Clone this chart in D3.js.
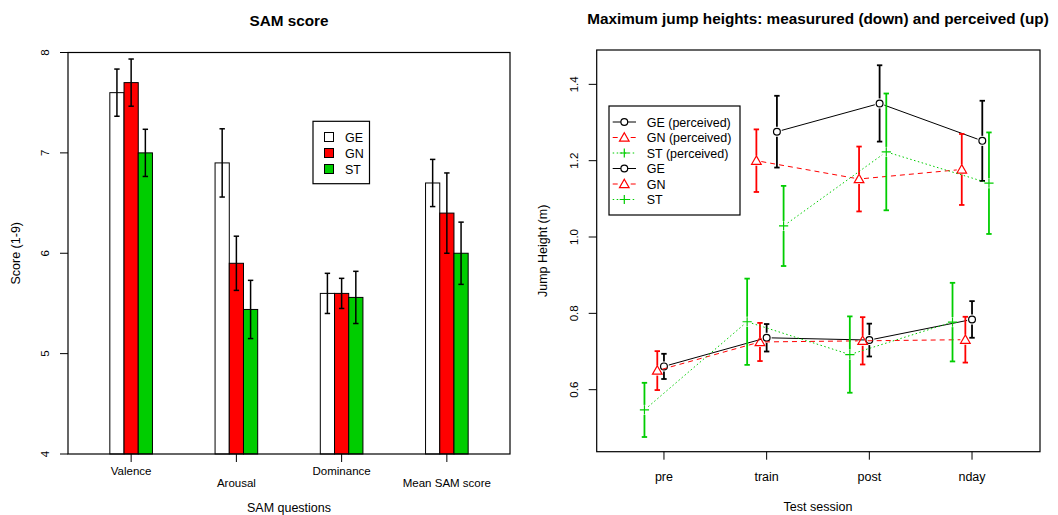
<!DOCTYPE html>
<meta charset="utf-8">
<head>
<style>
  body { margin: 0; background: #fff; }
  text { font-family: "Liberation Sans", Arial, sans-serif; }
</style>
</head>
<script src="https://d3js.org/d3.v7.min.js"></script>
<body>
<script>

// ---- left panel data: SAM score bars ----
var questions = ["Valence", "Arousal", "Dominance", "Mean SAM score"];
var groups = ["GE", "GN", "ST"];
var samMean = {
  GE: [7.60, 6.90, 5.60, 6.70],
  GN: [7.70, 5.90, 5.60, 6.40],
  ST: [7.00, 5.44, 5.56, 6.00]
};
var samErr = {
  GE: [0.235, 0.34, 0.20, 0.235],
  GN: [0.235, 0.27, 0.15, 0.40],
  ST: [0.235, 0.29, 0.26, 0.31]
};
var samTicks = [4, 5, 6, 7, 8];

// ---- right panel data: jump heights ----
var sessions = ["pre", "train", "post", "nday"];
var measured = {
  GE: [0.661, 0.736, 0.730, 0.784],
  GN: [0.650, 0.725, 0.728, 0.731],
  ST: [0.547, 0.778, 0.692, 0.777]
};
var measuredErr = {
  GE: [0.033, 0.036, 0.043, 0.048],
  GN: [0.051, 0.050, 0.062, 0.060],
  ST: [0.071, 0.113, 0.100, 0.103]
};
// perceived has no "pre" value
var perceived = {
  GE: [null, 1.276, 1.350, 1.252],
  GN: [null, 1.200, 1.152, 1.177],
  ST: [null, 1.029, 1.223, 1.141]
};
var perceivedErr = {
  GE: [null, 0.094, 0.100, 0.105],
  GN: [null, 0.082, 0.085, 0.093],
  ST: [null, 0.105, 0.153, 0.133]
};
// small horizontal dodge, in session units
var dodgeMeasured = {GE: 0, GN: -0.065, ST: -0.19};
var dodgePerceived = {GE: 0.10, GN: -0.10, ST: 0.165};
var jumpTicks = [0.6, 0.8, 1.0, 1.2, 1.4];

var colors = {GE: "#000000", GN: "#ff0000", ST: "#00cd00"};
var barFill = {GE: "#ffffff", GN: "#ff0000", ST: "#00cd00"};
var dash = {GE: null, GN: "5,4", ST: "1.5,2.5"};

var svg = d3.select("body").append("svg")
    .attr("width", 1058)
    .attr("height", 515);

// =================== left: bar chart ===================
var L = {left: 68, right: 510, top: 52.5, bottom: 454};

var xq = d3.scalePoint().domain(questions).range([L.left, L.right]).padding(0.6);
var barW = xq.step() * 0.135;
var xg = d3.scaleBand().domain(groups).range([-1.5 * barW, 1.5 * barW]);
var yS = d3.scaleLinear().domain([4, 8]).range([L.bottom, L.top]);

var left = svg.append("g");

groups.forEach(function(g) {
  left.selectAll(".bar" + g)
    .data(questions)
    .enter().append("rect")
    .attr("x", function(q) { return xq(q) + xg(g); })
    .attr("y", function(q, i) { return yS(samMean[g][i]); })
    .attr("width", xg.bandwidth())
    .attr("height", function(q, i) { return L.bottom - yS(samMean[g][i]); })
    .attr("fill", barFill[g])
    .attr("stroke", "#000")
    .attr("stroke-width", 1);
});

groups.forEach(function(g) {
  questions.forEach(function(q, i) {
    var cx = xq(q) + xg(g) + xg.bandwidth() / 2;
    var y0 = yS(samMean[g][i] - samErr[g][i]);
    var y1 = yS(samMean[g][i] + samErr[g][i]);
    var e = left.append("g").attr("stroke", "#000").attr("stroke-width", 1.5);
    e.append("line").attr("x1", cx).attr("x2", cx).attr("y1", y0).attr("y2", y1);
    e.append("line").attr("x1", cx - 2.7).attr("x2", cx + 2.7).attr("y1", y0).attr("y2", y0);
    e.append("line").attr("x1", cx - 2.7).attr("x2", cx + 2.7).attr("y1", y1).attr("y2", y1);
  });
});

// box
left.append("rect")
  .attr("x", L.left).attr("y", L.top)
  .attr("width", L.right - L.left).attr("height", L.bottom - L.top)
  .attr("fill", "none").attr("stroke", "#000").attr("stroke-width", 1.2);

// y axis
samTicks.forEach(function(t) {
  left.append("line").attr("x1", L.left - 8).attr("x2", L.left)
    .attr("y1", yS(t)).attr("y2", yS(t)).attr("stroke", "#000");
  left.append("text")
    .attr("transform", "translate(49," + yS(t) + ") rotate(-90)")
    .attr("text-anchor", "middle")
    .style("font-size", "11.5px")
    .text(t);
});

// x axis ticks and labels (R staggers them)
questions.forEach(function(q, i) {
  left.append("line").attr("x1", xq(q)).attr("x2", xq(q))
    .attr("y1", L.bottom).attr("y2", L.bottom + 8).attr("stroke", "#000");
  left.append("text")
    .attr("x", xq(q)).attr("y", i % 2 == 0 ? 475 : 487)
    .attr("text-anchor", "middle")
    .style("font-size", "11.5px")
    .text(q);
});

left.append("text").attr("x", 289).attr("y", 26)
  .attr("text-anchor", "middle")
  .style("font-size", "15.3px").style("font-weight", "bold")
  .text("SAM score");
left.append("text").attr("x", 289).attr("y", 512)
  .attr("text-anchor", "middle").style("font-size", "12.5px")
  .text("SAM questions");
left.append("text")
  .attr("transform", "translate(20," + ((L.top + L.bottom) / 2) + ") rotate(-90)")
  .attr("text-anchor", "middle").style("font-size", "12.5px")
  .text("Score (1-9)");

// legend
var lg = left.append("g");
lg.append("rect").attr("x", 313).attr("y", 121.3).attr("width", 56.5).attr("height", 62.4)
  .attr("fill", "#fff").attr("stroke", "#000").attr("stroke-width", 1.2);
groups.forEach(function(g, i) {
  var yy = 137 + i * 16;
  lg.append("rect").attr("x", 324.5).attr("y", yy - 4.5).attr("width", 9).attr("height", 9)
    .attr("fill", barFill[g]).attr("stroke", "#000");
  lg.append("text").attr("x", 345).attr("y", yy + 4.5)
    .style("font-size", "12.5px").text(g);
});

// =================== right: line chart ===================
var R = {left: 596.7, right: 1040, top: 50, bottom: 451.7};

var xS = d3.scaleLinear().domain([1 - 0.655, 4 + 0.662]).range([R.left, R.right]);
var yJ = d3.scaleLinear().domain([0.4375, 1.49]).range([R.bottom, R.top]);

var right = svg.append("g");

function symbol(g, sel, x, y, bg) {
  if (g == "GE") {
    sel.append("circle").attr("cx", x).attr("cy", y).attr("r", 3.4)
      .attr("fill", bg ? "#fff" : "none").attr("stroke", colors[g]).attr("stroke-width", 1.2);
  } else if (g == "GN") {
    var s = 4.8;
    sel.append("path")
      .attr("d", "M" + x + "," + (y - s) + "L" + (x + s) + "," + (y + s * 0.75) + "L" + (x - s) + "," + (y + s * 0.75) + "Z")
      .attr("fill", bg ? "#fff" : "none").attr("stroke", colors[g]).attr("stroke-width", 1.2);
  } else {
    var p = 4.6;
    sel.append("path")
      .attr("d", "M" + (x - p) + "," + y + "H" + (x + p) + "M" + x + "," + (y - p) + "V" + (y + p))
      .attr("stroke", colors[g]).attr("stroke-width", 1.2);
  }
}

function drawSeries(vals, errs, off, g) {
  var pts = [];
  vals.forEach(function(v, i) {
    if (v != null) pts.push({x: xS(i + 1 + off), y: yJ(v), lo: yJ(v - errs[i]), hi: yJ(v + errs[i])});
  });
  // connecting lines with gaps around symbols (type = "b")
  for (var k = 0; k < pts.length - 1; k++) {
    var a = pts[k], b = pts[k + 1];
    var dx = b.x - a.x, dy = b.y - a.y, len = Math.sqrt(dx * dx + dy * dy), gap = 5;
    right.append("line")
      .attr("x1", a.x + dx / len * gap).attr("y1", a.y + dy / len * gap)
      .attr("x2", b.x - dx / len * gap).attr("y2", b.y - dy / len * gap)
      .attr("stroke", colors[g]).attr("stroke-width", 1)
      .attr("stroke-dasharray", dash[g]);
  }
  // error bars
  pts.forEach(function(p) {
    var e = right.append("g").attr("stroke", colors[g]).attr("stroke-width", 1.8);
    e.append("line").attr("x1", p.x).attr("x2", p.x).attr("y1", p.lo).attr("y2", p.y + 5);
    e.append("line").attr("x1", p.x).attr("x2", p.x).attr("y1", p.y - 5).attr("y2", p.hi);
    e.append("line").attr("x1", p.x - 2.7).attr("x2", p.x + 2.7).attr("y1", p.lo).attr("y2", p.lo);
    e.append("line").attr("x1", p.x - 2.7).attr("x2", p.x + 2.7).attr("y1", p.hi).attr("y2", p.hi);
    symbol(g, right, p.x, p.y, false);
  });
}

groups.forEach(function(g) {
  drawSeries(perceived[g], perceivedErr[g], dodgePerceived[g], g);
});
groups.forEach(function(g) {
  drawSeries(measured[g], measuredErr[g], dodgeMeasured[g], g);
});

right.append("rect")
  .attr("x", R.left).attr("y", R.top)
  .attr("width", R.right - R.left).attr("height", R.bottom - R.top)
  .attr("fill", "none").attr("stroke", "#000").attr("stroke-width", 1.2);

jumpTicks.forEach(function(t) {
  right.append("line").attr("x1", R.left - 8).attr("x2", R.left)
    .attr("y1", yJ(t)).attr("y2", yJ(t)).attr("stroke", "#000");
  right.append("text")
    .attr("transform", "translate(577.5," + yJ(t) + ") rotate(-90)")
    .attr("text-anchor", "middle").style("font-size", "11.5px")
    .text(t.toFixed(1));
});

sessions.forEach(function(s, i) {
  right.append("line").attr("x1", xS(i + 1)).attr("x2", xS(i + 1))
    .attr("y1", R.bottom).attr("y2", R.bottom + 8).attr("stroke", "#000");
  right.append("text").attr("x", xS(i + 1)).attr("y", 480.5)
    .attr("text-anchor", "middle").style("font-size", "12.5px")
    .text(s);
});

right.append("text").attr("x", 818).attr("y", 24)
  .attr("text-anchor", "middle")
  .style("font-size", "15.3px").style("font-weight", "bold")
  .text("Maximum jump heights: measurured (down) and perceived (up)");
right.append("text").attr("x", 818).attr("y", 511)
  .attr("text-anchor", "middle").style("font-size", "12.5px")
  .text("Test session");
right.append("text")
  .attr("transform", "translate(547," + ((R.top + R.bottom) / 2) + ") rotate(-90)")
  .attr("text-anchor", "middle").style("font-size", "12.5px")
  .text("Jump Height (m)");

// legend
var legendRows = [
  {g: "GE", label: "GE (perceived)"},
  {g: "GN", label: "GN (perceived)"},
  {g: "ST", label: "ST (perceived)"},
  {g: "GE", label: "GE"},
  {g: "GN", label: "GN"},
  {g: "ST", label: "ST"}
];
var lr = right.append("g");
lr.append("rect").attr("x", 609).attr("y", 106).attr("width", 131).attr("height", 109)
  .attr("fill", "#fff").attr("stroke", "#000").attr("stroke-width", 1.2);
legendRows.forEach(function(r, i) {
  var yy = 122 + i * 15.5;
  lr.append("line").attr("x1", 612.7).attr("x2", 636).attr("y1", yy).attr("y2", yy)
    .attr("stroke", colors[r.g]).attr("stroke-dasharray", dash[r.g]);
  symbol(r.g, lr, 624.3, yy, true);
  lr.append("text").attr("x", 646.7).attr("y", yy + 4.5)
    .style("font-size", "12.5px").text(r.label);
});

</script>
</body>
